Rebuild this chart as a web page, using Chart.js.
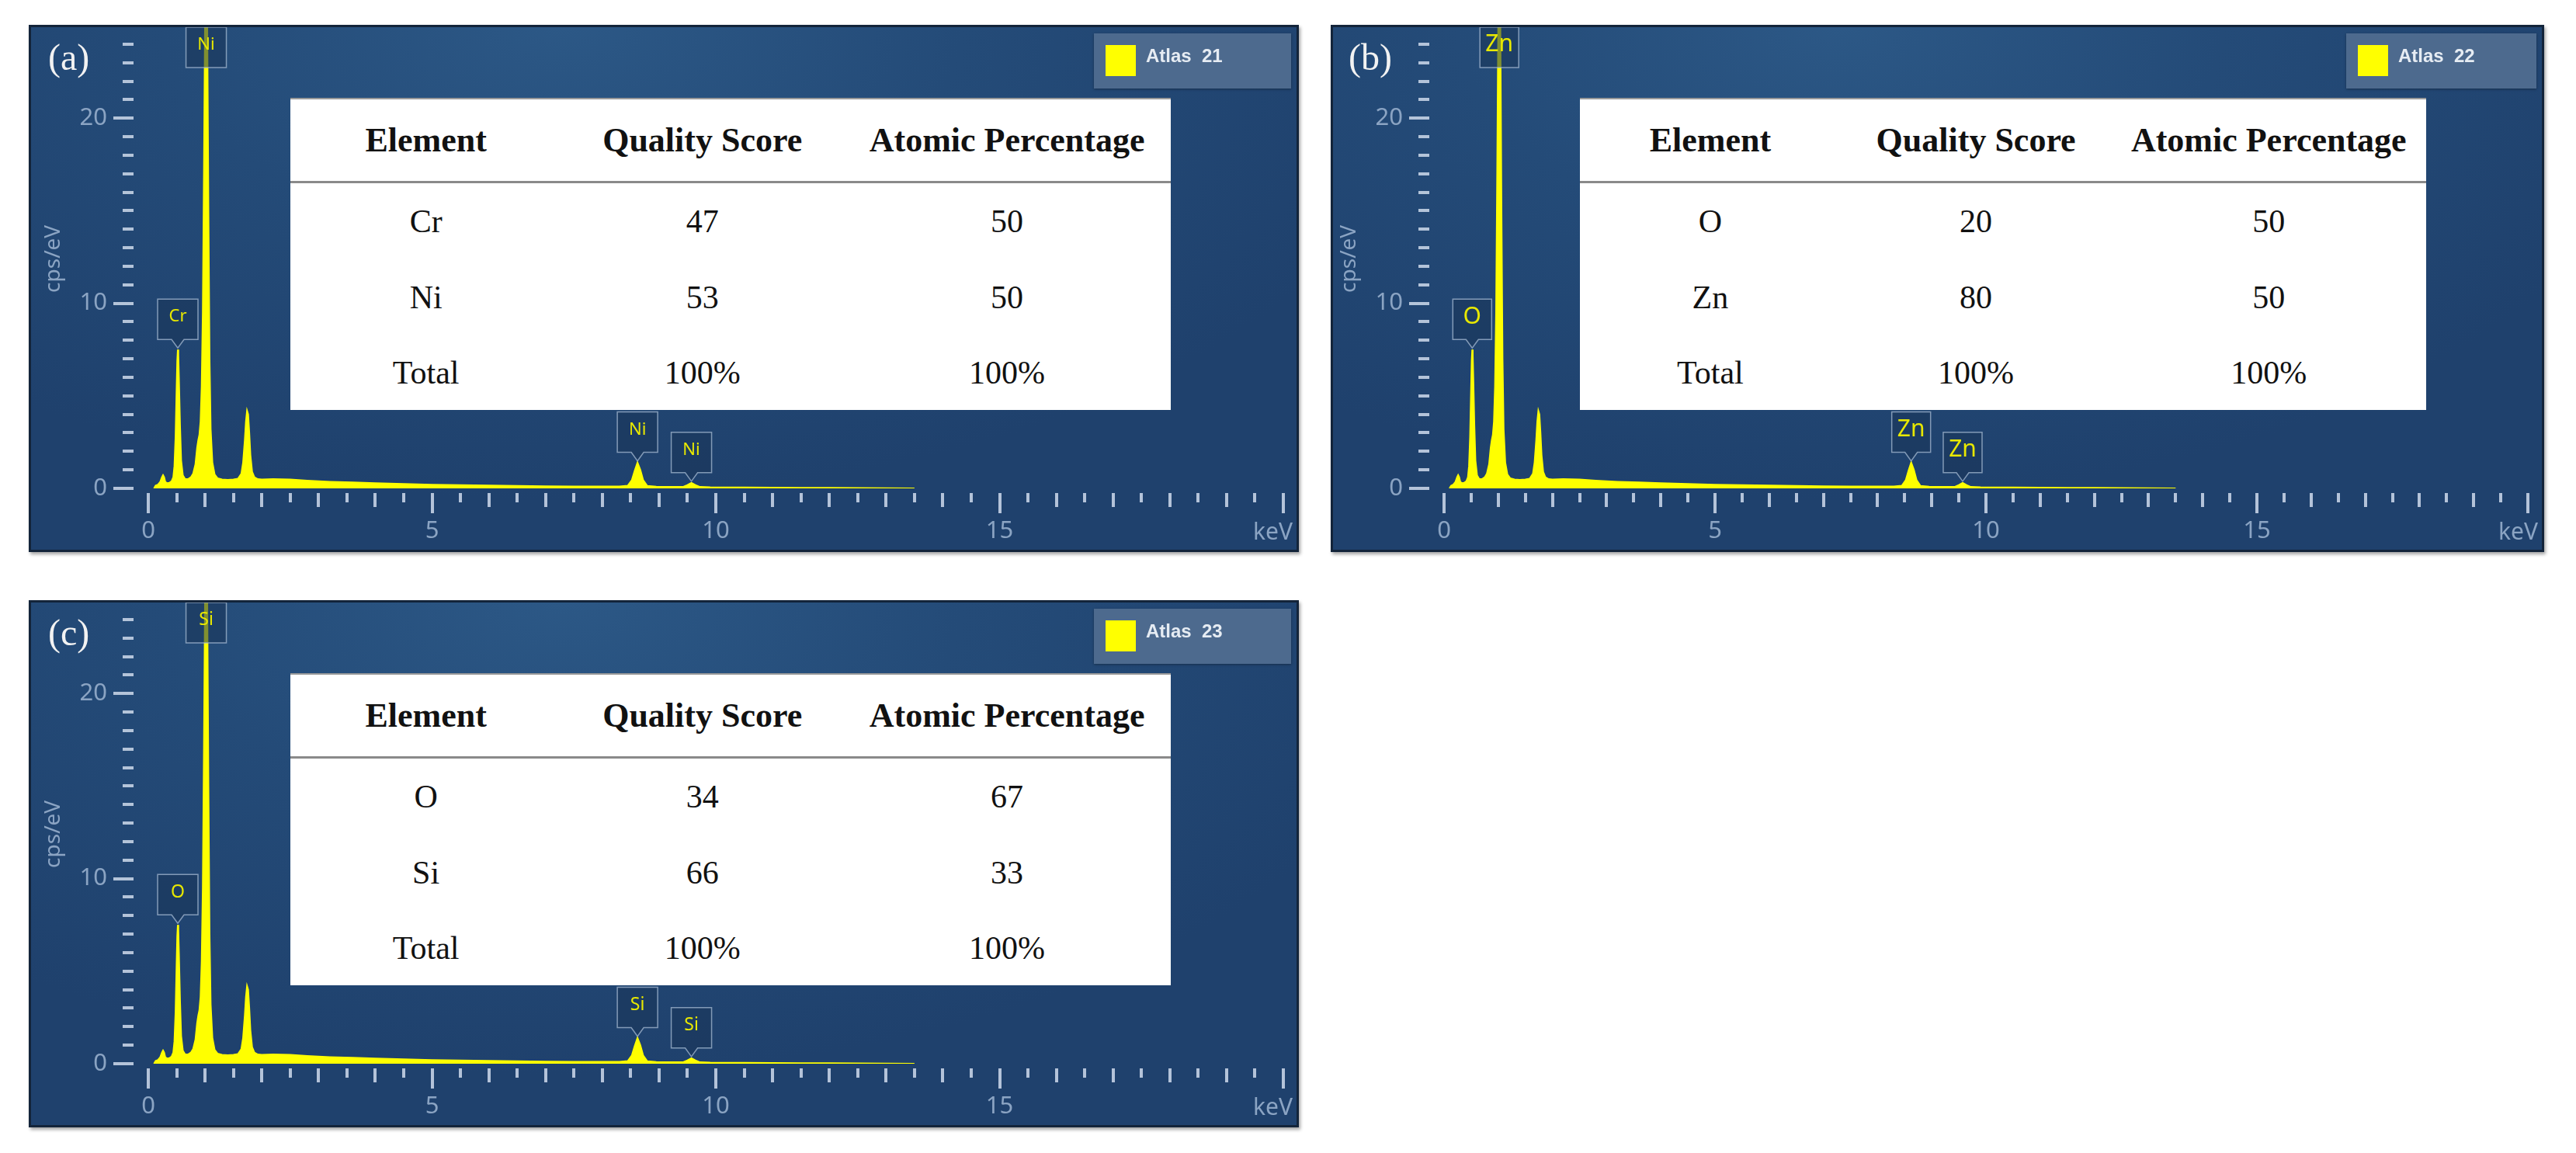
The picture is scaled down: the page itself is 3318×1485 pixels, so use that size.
<!DOCTYPE html>
<html>
<head>
<meta charset="utf-8">
<script src="https://cdn.jsdelivr.net/npm/chart.js@4.4.0/dist/chart.umd.min.js"></script>
<style>
    html, body { margin: 0; padding: 0; background: #ffffff; }
    body { width: 3318px; height: 1485px; position: relative; overflow: hidden; }
    .panel {
        position: absolute;
        background: radial-gradient(ellipse 70% 90% at 42% 0%, #2c5886 0%, #244b78 45%, #1f416d 100%);
        box-shadow: 2px 3px 4px rgba(0, 0, 0, 0.35);
    }
    .panel canvas { position: absolute; left: 0; top: 0; }
    .marco {
        position: absolute; left: 0; top: 0; right: 0; bottom: 0;
        border: 3px solid #13243a; box-sizing: border-box; pointer-events: none;
    }
    .tag {
        position: absolute; top: 18px;
        font-family: 'Liberation Serif', 'Times New Roman', serif;
        font-size: 48px; color: #f2f2f2; line-height: 1;
    }
    .atlas {
        position: absolute; top: 11px; height: 71px;
        background: #4d6a8e; box-shadow: 0 1px 3px rgba(0, 0, 0, 0.35);
    }
    .atlas .sw { position: absolute; left: 15px; top: 15px; width: 39px; height: 40px; background: #ffff00; }
    .atlas .txt {
        position: absolute; left: 67px; top: 15px; white-space: pre;
        font-family: 'Liberation Sans', Arial, sans-serif; font-weight: bold;
        font-size: 24px; color: #e6ecf3;
    }
    .tabla {
        position: absolute; top: 94px; height: 402px;
        background: #ffffff; border-collapse: collapse; table-layout: fixed;
        font-family: 'Liberation Serif', 'Times New Roman', serif; color: #111;
        border-top: 2px solid #9a9a9a;
    }
    .tabla th { height: 104px; font-size: 44px; font-weight: bold; border-bottom: 3px solid #8a8a8a; padding: 0; }
    .tabla td { font-size: 42px; text-align: center; padding: 0; }
</style>
</head>
<body>

<div class="panel" id="panelA" style="left:37px; top:32px; width:1636px; height:679px;">
    <canvas id="chartA"></canvas>
    <div class="tag" style="left:25px;">(a)</div>
    <div class="atlas" style="left:1372px; width:254px;"><div class="sw"></div><div class="txt" id="atlasA"></div></div>
    <table class="tabla" id="tablaA" style="left:337px; width:1134px;"></table>
    <div class="marco"></div>
</div>

<div class="panel" id="panelB" style="left:1714px; top:32px; width:1563px; height:679px;">
    <canvas id="chartB"></canvas>
    <div class="tag" style="left:23px;">(b)</div>
    <div class="atlas" style="left:1308px; width:245px;"><div class="sw"></div><div class="txt" id="atlasB"></div></div>
    <table class="tabla" id="tablaB" style="left:321px; width:1090px;"></table>
    <div class="marco"></div>
</div>

<div class="panel" id="panelC" style="left:37px; top:773px; width:1636px; height:679px;">
    <canvas id="chartC"></canvas>
    <div class="tag" style="left:25px;">(c)</div>
    <div class="atlas" style="left:1372px; width:254px;"><div class="sw"></div><div class="txt" id="atlasC"></div></div>
    <table class="tabla" id="tablaC" style="left:337px; width:1134px;"></table>
    <div class="marco"></div>
</div>

<script>
// Espectro EDS (mismo barrido en los tres paneles): energía en keV y cuentas en cps/eV
const energia = [0.10, 0.13, 0.17, 0.21, 0.24, 0.26, 0.28, 0.30, 0.33, 0.37, 0.41, 0.44, 0.46, 0.48, 0.50,
    0.51, 0.52, 0.53, 0.54, 0.56, 0.58, 0.61, 0.65, 0.70, 0.75, 0.79, 0.83, 0.86, 0.88, 0.90, 0.92, 0.94,
    0.96, 0.98, 1.00, 1.02, 1.04, 1.06, 1.08, 1.10, 1.13, 1.17, 1.22, 1.30, 1.40, 1.50, 1.58, 1.64, 1.67,
    1.70, 1.72, 1.74, 1.76, 1.78, 1.80, 1.83, 1.87, 1.93, 2.0, 2.2, 2.5, 2.8, 3.2, 3.6, 4.0, 4.5, 5.0, 5.5,
    6.0, 6.5, 7.0, 7.5, 8.0, 8.3, 8.45, 8.52, 8.57, 8.62, 8.67, 8.72, 8.79, 8.95, 9.2, 9.42, 9.5, 9.57,
    9.64, 9.72, 9.9, 10.5, 11.0, 11.5, 12.0, 12.5, 13.0, 13.5];
const cuentas = [0, 0.15, 0.2, 0.35, 0.6, 0.72, 0.6, 0.35, 0.28, 0.3, 0.38, 0.6, 1.2, 2.8, 5.6,
    6.9, 7.5, 7.2, 6.0, 3.4, 1.5, 0.7, 0.5, 0.5, 0.6, 0.8, 1.3, 2.2, 2.6, 2.9, 3.6, 5.5,
    9.5, 17, 25.5, 27, 25, 15, 7, 3.2, 1.4, 0.75, 0.55, 0.48, 0.46, 0.48, 0.52, 0.8, 1.4,
    2.6, 3.6, 4.2, 4.0, 3.0, 1.8, 0.9, 0.6, 0.5, 0.48, 0.5, 0.48, 0.42, 0.36, 0.32, 0.28, 0.24, 0.2, 0.18,
    0.16, 0.14, 0.12, 0.11, 0.1, 0.1, 0.15, 0.45, 0.95, 1.4, 1.0, 0.45, 0.14, 0.09, 0.08, 0.08, 0.18, 0.3,
    0.18, 0.08, 0.06, 0.05, 0.04, 0.03, 0.03, 0.02, 0.01, 0];

// Ejes
const ticksX = [0, 5, 10, 15];
const ticksY = [0, 10, 20];

// Picos etiquetados (keV) y el elemento de cada panel
const energiaPicos = [0.52, 1.02, 8.62, 9.57];
const picosA = ['Cr', 'Ni', 'Ni', 'Ni'];
const picosB = ['O', 'Zn', 'Zn', 'Zn'];
const picosC = ['O', 'Si', 'Si', 'Si'];

// Tablas de cuantificación
const columnas = ['Element', 'Quality Score', 'Atomic Percentage'];
const elementosA = ['Cr', 'Ni', 'Total'];
const calidadA = ['47', '53', '100%'];
const atomicoA = ['50', '50', '100%'];
const elementosB = ['O', 'Zn', 'Total'];
const calidadB = ['20', '80', '100%'];
const atomicoB = ['50', '50', '100%'];
const elementosC = ['O', 'Si', 'Total'];
const calidadC = ['34', '66', '100%'];
const atomicoC = ['67', '33', '100%'];

const leyendas = ['Atlas  21', 'Atlas  22', 'Atlas  23'];

const COLOR_TICK = 'rgba(196, 210, 228, 0.9)';
const COLOR_TEXTO_EJE = '#8ba4c3';

function llenarTabla(id, elementos, calidad, atomico) {
    const tabla = document.getElementById(id);
    let html = '<colgroup><col style="width:30.8%"><col style="width:32%"><col style="width:37.2%"></colgroup>';
    html += '<tr>' + columnas.map(c => '<th>' + c + '</th>').join('') + '</tr>';
    const alturas = [100, 96, 96];
    elementos.forEach((el, i) => {
        html += '<tr style="height:' + alturas[i] + 'px"><td>' + el + '</td><td>' + calidad[i] + '</td><td>' + atomico[i] + '</td></tr>';
    });
    tabla.innerHTML = html;
}

function alturaPico(kev) {
    let max = 0;
    energia.forEach((e, i) => {
        if (Math.abs(e - kev) <= 0.025 && cuentas[i] > max) max = cuentas[i];
    });
    return max;
}

// Plugin: marcas de los ejes, títulos y cajas de los picos
const decoracionEDS = {
    id: 'decoracionEDS',
    afterDraw(chart) {
        const ctx = chart.ctx;
        const xs = chart.scales.x;
        const ys = chart.scales.y;
        const area = chart.chartArea;
        const cfg = chart.options.plugins.decoracionEDS;
        const y0 = ys.getPixelForValue(0);

        ctx.save();
        ctx.fillStyle = COLOR_TICK;
        // marcas del eje X cada 0.5 keV
        for (let k = 0; k <= 40; k++) {
            const v = k / 2;
            const px = xs.getPixelForValue(v);
            let largo = 12;
            if (v % 5 === 0) largo = 26;
            else if (v % 1 === 0) largo = 18;
            ctx.fillRect(Math.round(px) - 2, y0 + 6, 4, largo);
        }
        // marcas del eje Y cada 1 cps/eV
        for (let v = 0; v <= 24; v++) {
            const py = ys.getPixelForValue(v);
            const largo = (v % 10 === 0) ? 26 : 14;
            ctx.fillRect(area.left - 19 - largo, Math.round(py) - 2, largo, 4);
        }

        ctx.fillStyle = COLOR_TEXTO_EJE;
        ctx.font = '30px "Noto Sans", sans-serif';
        ctx.textAlign = 'right';
        ctx.textBaseline = 'middle';
        ctx.fillText('keV', chart.width - 8, y0 + 57);

        ctx.save();
        ctx.translate(area.left - 122, ys.getPixelForValue(12.4));
        ctx.rotate(-Math.PI / 2);
        ctx.textAlign = 'center';
        ctx.font = '28px "Noto Sans", sans-serif';
        ctx.fillText('cps/eV', 0, 0);
        ctx.restore();

        // cajas de identificación de picos
        cfg.etiquetas.forEach((el, i) => {
            const kev = energiaPicos[i];
            const px = xs.getPixelForValue(kev);
            const alto = alturaPico(kev);
            const w = cfg.anchoCaja, h = 52, punta = 11;
            let top;
            const conPunta = alto < ys.max;
            if (conPunta) {
                top = ys.getPixelForValue(alto) - 2 - punta - h;
            } else {
                top = area.top + 2;
            }
            ctx.beginPath();
            ctx.moveTo(px - w / 2, top);
            ctx.lineTo(px + w / 2, top);
            ctx.lineTo(px + w / 2, top + h);
            if (conPunta) {
                ctx.lineTo(px + 8, top + h);
                ctx.lineTo(px, top + h + punta);
                ctx.lineTo(px - 8, top + h);
            }
            ctx.lineTo(px - w / 2, top + h);
            ctx.closePath();
            ctx.fillStyle = 'rgba(26, 52, 88, 0.55)';
            ctx.fill();
            ctx.strokeStyle = 'rgba(165, 185, 210, 0.75)';
            ctx.lineWidth = 1.5;
            ctx.stroke();

            ctx.fillStyle = '#e8e800';
            ctx.font = cfg.fuenteCaja + 'px "Noto Sans", sans-serif';
            ctx.textAlign = 'center';
            ctx.textBaseline = 'middle';
            ctx.fillText(el, px, top + h * 0.44);
        });
        ctx.restore();
    }
};

function crearEspectro(canvasId, etiquetas, izquierda, derecha, fuenteCaja, anchoCaja) {
    const ctx = document.getElementById(canvasId).getContext('2d');
    const puntos = energia.map((e, i) => ({ x: e, y: cuentas[i] }));

    return new Chart(ctx, {
        type: 'line',
        data: {
            datasets: [{
                data: puntos,
                borderColor: '#ffff00',
                backgroundColor: '#ffff00',
                borderWidth: 2,
                pointRadius: 0,
                tension: 0,
                fill: 'origin'
            }]
        },
        options: {
            responsive: true,
            maintainAspectRatio: false,
            animation: false,
            layout: { padding: { left: 0, top: 1, right: derecha, bottom: 0 } },
            plugins: {
                legend: { display: false },
                tooltip: { enabled: false },
                decoracionEDS: { etiquetas: etiquetas, fuenteCaja: fuenteCaja, anchoCaja: anchoCaja }
            },
            scales: {
                x: {
                    type: 'linear',
                    min: 0,
                    max: 20,
                    grid: { display: false, drawTicks: false },
                    border: { display: false },
                    afterBuildTicks: (s) => { s.ticks = ticksX.map(v => ({ value: v })); },
                    ticks: {
                        padding: 37,
                        color: COLOR_TEXTO_EJE,
                        font: { family: 'Noto Sans', size: 31 },
                        maxRotation: 0
                    },
                    afterFit: (s) => { s.height = 82; s.paddingLeft = 0; s.paddingRight = 0; }
                },
                y: {
                    min: 0,
                    max: 25,
                    grid: { display: false, drawTicks: false },
                    border: { display: false },
                    afterBuildTicks: (s) => { s.ticks = ticksY.map(v => ({ value: v })); },
                    ticks: {
                        padding: 53,
                        color: COLOR_TEXTO_EJE,
                        font: { family: 'Noto Sans', size: 31 }
                    },
                    afterFit: (s) => { s.width = izquierda; s.paddingTop = 0; s.paddingBottom = 0; }
                }
            }
        },
        plugins: [decoracionEDS]
    });
}

document.addEventListener('DOMContentLoaded', () => {
    llenarTabla('tablaA', elementosA, calidadA, atomicoA);
    llenarTabla('tablaB', elementosB, calidadB, atomicoB);
    llenarTabla('tablaC', elementosC, calidadC, atomicoC);
    document.getElementById('atlasA').textContent = leyendas[0];
    document.getElementById('atlasB').textContent = leyendas[1];
    document.getElementById('atlasC').textContent = leyendas[2];

    crearEspectro('chartA', picosA, 154, 20, 22, 52);
    crearEspectro('chartB', picosB, 146, 21, 30, 50);
    crearEspectro('chartC', picosC, 154, 20, 23, 52);
});
</script>
</body>
</html>
